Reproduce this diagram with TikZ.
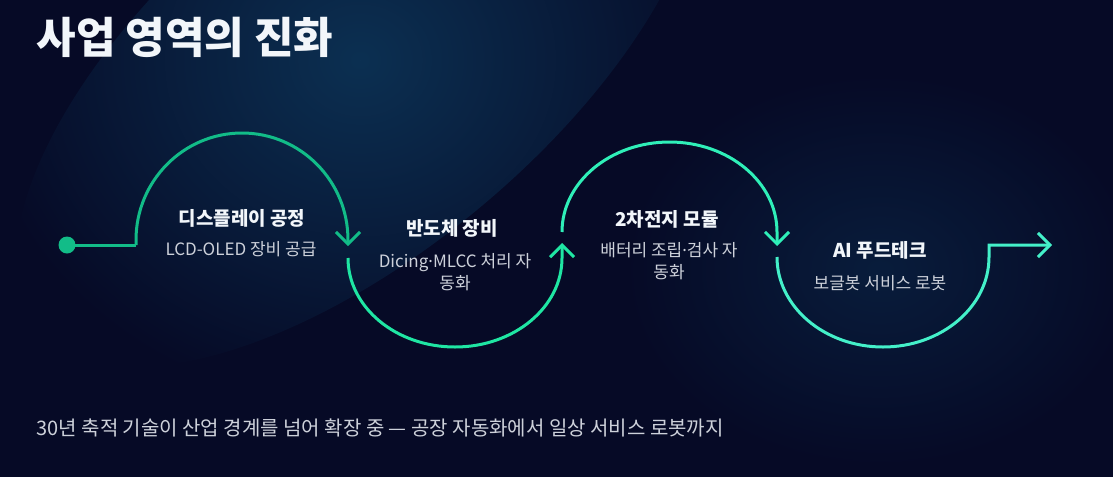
\documentclass[tikz,border=0pt]{standalone}
\usepackage{fontspec}
\setmainfont{Noto Sans CJK KR}
\newfontfamily\latinfont{Noto Sans}
\usetikzlibrary{arrows.meta,fadings}

\definecolor{bgnavy}{HTML}{060A26}
\definecolor{glowblue}{HTML}{0C3052}
\definecolor{flowA}{HTML}{12BC88}
\definecolor{flowB}{HTML}{1FE6A3}
\definecolor{flowC}{HTML}{2FEFB8}
\definecolor{flowD}{HTML}{44F0C9}
\definecolor{headtext}{HTML}{F2F6FA}
\definecolor{subtext}{HTML}{CDD1DA}
\tikzfading[name=softglow, inner color=transparent!0, outer color=transparent!100]
\newcommand{\middot}{{\latinfont ·}}

\begin{document}
\begin{tikzpicture}[x=1pt,y=-1pt,
    flow/.style={line width=3pt, -{Straight Barb[length=12pt,width=24pt,line width=3pt]}},
    stagehead/.style={text=headtext, font=\fontsize{19}{22}\selectfont\bfseries},
    stagesub/.style={text=subtext, align=center, font=\fontsize{17}{22}\selectfont}]
% Background
\useasboundingbox (0,0) rectangle (1113,477);
\begin{scope}
\clip (0,0) rectangle (1113,477);
\fill[bgnavy] (0,0) rectangle (1113,477);
\fill[glowblue, path fading=softglow, rotate around={40:(360,60)}] (360,60) ellipse [x radius=420, y radius=190];
\fill[glowblue!50!bgnavy, path fading=softglow] (880,270) ellipse [x radius=260, y radius=200];
\end{scope}

% Title
\node[anchor=west, text=headtext, font=\fontsize{43}{46}\selectfont\bfseries] (title) at (33,37) {사업 영역의 진화};

% Waypoints
\node[circle, fill=flowA, minimum size=17pt, inner sep=0pt] (dot) at (67,245) {};
\coordinate (a1) at (136,245);
\coordinate (b1) at (348,246);
\coordinate (a2) at (348,258);
\coordinate (b2) at (562,243);
\coordinate (a3) at (562,232);
\coordinate (b3) at (777,246);
\coordinate (a4) at (777,257);
\coordinate (b4) at (1052,245);

% Flow line
\draw[flowA, line width=3pt] (dot.center) -- (a1);
\draw[flowA, flow] (a1) -- ++(0,-5) arc[start angle=180, end angle=360, x radius=106, y radius=107] -- (b1);
\draw[flowB, flow] (a2) arc[start angle=180, end angle=0, x radius=107, y radius=89] -- (b2);
\draw[flowC, flow] (a3) arc[start angle=180, end angle=360, x radius=107.5, y radius=90] -- (b3);
\draw[flowD, flow] (a4) arc[start angle=180, end angle=0, x radius=106, y radius=90] -- ++(0,-12) -- (b4);

% Stages
\node[stagehead] (t1) at (242,218) {디스플레이 공정};
\node[stagesub] (s1) at (241,249) {LCD-OLED 장비 공급};
\node[stagehead] (t2) at (452,228) {반도체 장비};
\node[stagesub] (s2) at (455,272) {Dicing\middot MLCC 처리 자\\동화};
\node[stagehead] (t3) at (667,219) {2차전지 모듈};
\node[stagesub] (s3) at (669,261) {배터리 조립\middot 검사 자\\동화};
\node[stagehead] (t4) at (880,250) {AI 푸드테크};
\node[stagesub] (s4) at (880,283) {보글봇 서비스 로봇};

% Footer
\node[anchor=west, text=subtext, font=\fontsize{20}{22}\selectfont] (note) at (33,428) {30년 축적 기술이 산업 경계를 넘어 확장 중 — 공장 자동화에서 일상 서비스 로봇까지};
\end{tikzpicture}
\end{document}
